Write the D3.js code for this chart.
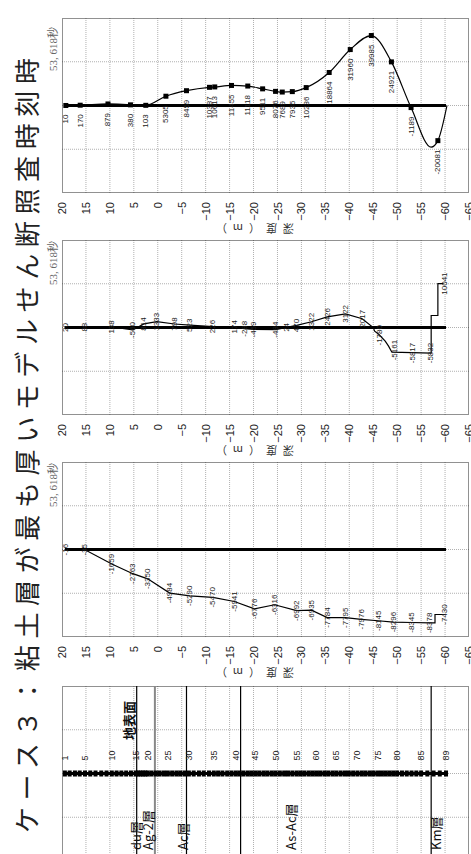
<!DOCTYPE html>
<html><head><meta charset="utf-8">
<script src="https://cdn.jsdelivr.net/npm/d3@7"></script>
<style>body{margin:0;background:#fff}svg{display:block}</style>
</head><body>
<svg id="c" width="471" height="854"></svg>
<script>
// ---------- DATA ----------
const titleText = "ケース３：粘土層が最も厚いモデルせん断照査時刻時";
const timeText = "53, 618秒";
const axisTitleText = "深度（m）";
const depthTicks = [20,15,10,5,0,-5,-10,-15,-20,-25,-30,-35,-40,-45,-50,-55,-60,-65];

// Panel 1 (bending moment) markers + labels
const p1Depth = [19.2,16.2,10.4,5.7,2.5,-1.7,-6.0,-10.8,-11.9,-15.4,-18.8,-21.9,-24.6,-26.0,-28.1,-31.0,-35.8,-40.2,-44.6,-48.8,-52.9,-58.5];
const p1Value = [10,170,879,380,103,5305,8459,10387,10613,11455,11118,9511,8076,7689,7935,10236,18864,31960,39985,24921,-1189,-20081];
// Panel 1 continuous curve
const p1LineDepth = [19.2,16.2,10.4,5.7,2.5,-1.7,-6.0,-10.8,-11.9,-15.4,-18.8,-21.9,-24.6,-26.0,-28.1,-31.0,-35.8,-40.2,-44.6,-48.8,-52.9,-57.1,-58.5,-60.4];
const p1LineValue = [10,170,879,380,103,5305,8459,10387,10613,11455,11118,9511,8076,7689,7935,10236,18864,31960,39985,24921,-1189,-23800,-20081,0];

// Panel 2 (shear) labels
const p2Depth = [19.2,15.2,9.6,5.2,2.9,0.2,-3.5,-6.7,-11.5,-16.0,-18.1,-20.0,-24.6,-26.9,-29.0,-32.1,-35.4,-39.2,-42.7,-46.3,-49.4,-53.1,-56.9,-59.8];
const p2Value = [20,88,138,-560,814,1333,798,523,226,174,-288,-459,-484,24,470,1322,2426,3122,2017,-1780,-5161,-5817,-5832,10041];
// Panel 2 line
const p2LineDepth = [19.4,15.2,9.6,5.2,2.9,0.2,-3.5,-6.7,-11.5,-16.0,-18.1,-20.0,-24.6,-26.9,-29.0,-32.1,-35.4,-39.2,-42.7,-45.0,-45.3,-46.2,-47.5,-48.2,-48.9,-57.1,-57.1,-58.5,-58.5,-59.7];
const p2LineValue = [20,88,138,-560,814,1333,798,523,226,174,-288,-459,-484,24,470,1322,2426,3122,2017,0,-840,-1600,-3130,-4270,-5640,-5832,2743,2743,10041,10041];

// Panel 3 (axial) labels
const p3Depth = [19.2,15.2,9.6,5.2,2.1,-2.5,-6.7,-11.5,-16.0,-20.2,-24.4,-29.0,-32.1,-35.4,-39.2,-42.5,-46.0,-49.2,-53.0,-56.7,-59.8];
const p3Value = [-16,-35,-1659,-2763,-3350,-4984,-5290,-5470,-5941,-6776,-6316,-6992,-6935,-7784,-7795,-7976,-8145,-8296,-8345,-8378,-7430];
// Panel 3 line
const p3LineDepth = [19.4,15.2,9.6,5.2,2.1,-2.5,-6.7,-11.5,-16.0,-20.2,-24.4,-29.0,-32.1,-35.4,-39.2,-42.5,-46.0,-49.2,-53.0,-56.7,-57.9,-57.9,-60.0];
const p3LineValue = [-16,-35,-1659,-2763,-3350,-4984,-5290,-5470,-5941,-6776,-6316,-6992,-6935,-7784,-7795,-7976,-8145,-8296,-8345,-8378,-8378,-7430,-7430];

// Panel 4 (model)
const nodeDepth = [19.4,18.4,17.3,16.3,15.2,14.1,13.0,11.8,10.7,9.6,8.6,7.6,6.6,5.6,4.6,4.1,3.6,3.1,2.6,2.1,1.3,0.4,-0.4,-1.3,-2.1,-3.0,-3.9,-4.7,-5.6,-6.5,-7.5,-8.6,-9.6,-10.7,-11.7,-12.6,-13.5,-14.5,-15.4,-16.3,-17.1,-17.9,-18.8,-19.6,-20.4,-21.2,-22.1,-22.9,-23.8,-24.6,-25.5,-26.4,-27.2,-28.1,-29.0,-29.8,-30.6,-31.5,-32.3,-33.1,-33.9,-34.8,-35.6,-36.5,-37.3,-38.2,-39.1,-39.9,-40.8,-41.7,-42.6,-43.4,-44.3,-45.1,-46.0,-46.8,-47.6,-48.4,-49.2,-50.0,-51.0,-52.0,-53.0,-54.0,-55.0,-56.3,-57.6,-58.9,-60.2];
const nodeLabelIds = [1,5,10,15,20,25,30,35,40,45,50,55,60,65,70,75,80,85,89];
const boundaryDepth = [4.4,0.6,-6.0,-17.3,-57.1];
const boundaryKind = ["black","gray","black","black","black"];
const layerNames = ["du層","Ag-2層","Ac層","As-Ac層","Km層"];
const layerNameDepth = [3.5,0.9,-6.3,-28.8,-59.2];
const surfaceText = "地表面";
const surfaceDepth = 4.9;

// ---------- LAYOUT ----------
const svg = d3.select("#c");
const g = svg.append("g").attr("transform","translate(0,854) rotate(-90)");
const y = d3.scaleLinear().domain([20,-65]).range([62,469]);
const PW = 175;
const lefts = [661,439,217,-7];
const ranges = [50000,20000,10000,1];
const xs = lefts.map((l,i)=>d3.scaleLinear().domain([-ranges[i],ranges[i]]).range([l,l+PW]));

const sansJP = "'Noto Sans CJK JP','Liberation Sans',sans-serif";
const lblFont = "'Liberation Sans',sans-serif";

// title
g.append("text").attr("x",21).attr("y",37)
 .attr("textLength",775).attr("lengthAdjust","spacing")
 .style("font-family",sansJP).style("font-size","26px").style("font-weight","400")
 .attr("fill","#222").text(titleText);

lefts.forEach((l,i)=>{
  const x = xs[i];
  const pg = g.append("g");
  [-0.5,0,0.5].forEach(f=>{
    pg.append("line").attr("x1",x(f*ranges[i])).attr("x2",x(f*ranges[i]))
      .attr("y1",y(20)).attr("y2",y(-65))
      .attr("stroke","#b0b0b0").attr("stroke-width",1).attr("stroke-dasharray","1,1");
  });
  depthTicks.slice(1,-1).forEach(d=>{
    pg.append("line").attr("x1",l).attr("x2",l+PW).attr("y1",y(d)).attr("y2",y(d))
      .attr("stroke","#b0b0b0").attr("stroke-width",1).attr("stroke-dasharray","1,1");
  });
  pg.append("rect").attr("x",l+0.5).attr("y",y(20)+0.5).attr("width",PW-1).attr("height",y(-65)-y(20)-1)
    .attr("fill","none").attr("stroke","#222").attr("stroke-width",1).attr("stroke-dasharray","1,1");
  if(i<3){
    const ax = d3.axisLeft(y).tickValues(depthTicks).tickSize(0).tickPadding(9);
    const axg = pg.append("g").attr("transform",`translate(${l},0)`).call(ax);
    axg.select(".domain").remove();
    axg.selectAll("text").style("font-family","'Liberation Sans',sans-serif").style("font-size","11px").attr("fill","#222");
    pg.append("text").attr("transform",`translate(${l-36},252) rotate(-90)`)
      .attr("text-anchor","middle").attr("dominant-baseline","central")
      .style("font-family",sansJP).style("font-size","11px").attr("letter-spacing","6px").attr("fill","#333")
      .text(axisTitleText);
    pg.append("text").attr("x", i===0? l+PW-9 : l+PW-1).attr("y",57).attr("text-anchor","end")
      .style("font-family","'Liberation Serif','Noto Sans CJK JP',serif").style("font-size","11px").attr("fill","#666")
      .text(timeText);
    pg.append("line").attr("x1",x(0)).attr("x2",x(0)).attr("y1",y(nodeDepth[0])).attr("y2",y(nodeDepth[nodeDepth.length-1]))
      .attr("stroke","#000").attr("stroke-width",3);
  }
});

// Panel 1
{
  const x = xs[0];
  const line = d3.line().x((d,i)=>x(p1LineValue[i])).y(d=>y(d)).curve(d3.curveMonotoneY);
  g.append("path").attr("d",line(p1LineDepth)).attr("fill","none").attr("stroke","#000").attr("stroke-width",1.2);
  g.selectAll(".m1").data(p1Depth).join("rect").attr("x",(d,i)=>x(p1Value[i])-2.5).attr("y",d=>y(d)-2.5)
    .attr("width",5).attr("height",5).attr("fill","#000");
  g.selectAll(".l1").data(p1Depth).join("text").attr("x",(d,i)=>x(p1Value[i])-9).attr("y",d=>y(d))
    .attr("text-anchor","end").attr("dominant-baseline","central")
    .style("font-family",lblFont).style("font-size","8px").attr("fill","#222")
    .text((d,i)=>p1Value[i]);
}
// Panel 2
{
  const x = xs[1];
  const line = d3.line().x((d,i)=>x(p2LineValue[i])).y(d=>y(d));
  g.append("path").attr("d",line(p2LineDepth)).attr("fill","none").attr("stroke","#000").attr("stroke-width",1.2);
  g.selectAll(".l2").data(p2Depth).join("text").attr("x",(d,i)=>x(p2Value[i])).attr("y",d=>y(d))
    .attr("text-anchor","middle").attr("dominant-baseline","central")
    .style("font-family",lblFont).style("font-size","8px").attr("fill","#222")
    .text((d,i)=>p2Value[i]);
}
// Panel 3
{
  const x = xs[2];
  const line = d3.line().x((d,i)=>x(p3LineValue[i])).y(d=>y(d));
  g.append("path").attr("d",line(p3LineDepth)).attr("fill","none").attr("stroke","#000").attr("stroke-width",1.2);
  g.selectAll(".l3").data(p3Depth).join("text").attr("x",(d,i)=>x(p3Value[i])).attr("y",d=>y(d))
    .attr("text-anchor","middle").attr("dominant-baseline","central")
    .style("font-family",lblFont).style("font-size","8px").attr("fill","#222")
    .text((d,i)=>p3Value[i]);
}
// Panel 4
{
  const x = xs[3];
  const cx = x(0);
  boundaryDepth.forEach((d,i)=>{
    g.append("line").attr("x1",lefts[3]).attr("x2",lefts[3]+PW).attr("y1",y(d)).attr("y2",y(d))
      .attr("stroke", boundaryKind[i]==="gray" ? "#888" : "#000").attr("stroke-width", boundaryKind[i]==="gray"?2:1.2);
  });
  g.append("line").attr("x1",cx).attr("x2",cx).attr("y1",y(nodeDepth[0])).attr("y2",y(nodeDepth[nodeDepth.length-1]))
    .attr("stroke","#000").attr("stroke-width",3);
  g.selectAll(".n4").data(nodeDepth).join("rect").attr("x",cx-3).attr("y",d=>y(d)-2).attr("width",6).attr("height",4).attr("fill","#000");
  g.selectAll(".nl").data(nodeLabelIds).join("text").attr("x",cx+13).attr("y",d=>y(nodeDepth[d-1]))
    .attr("dominant-baseline","central")
    .style("font-family","'Liberation Sans',sans-serif").style("font-size","9px").attr("fill","#222").text(d=>d);
  g.append("text").attr("x",114).attr("y",y(surfaceDepth))
    .style("font-family",sansJP).style("font-size","13px").style("font-weight","bold").attr("fill","#111").text(surfaceText);
  layerNames.forEach((n,i)=>{
    g.append("text").attr("x",4).attr("y",y(layerNameDepth[i]))
      .style("font-family",sansJP).style("font-size","13px").attr("fill","#111").text(n);
  });
}
</script>
</body></html>
